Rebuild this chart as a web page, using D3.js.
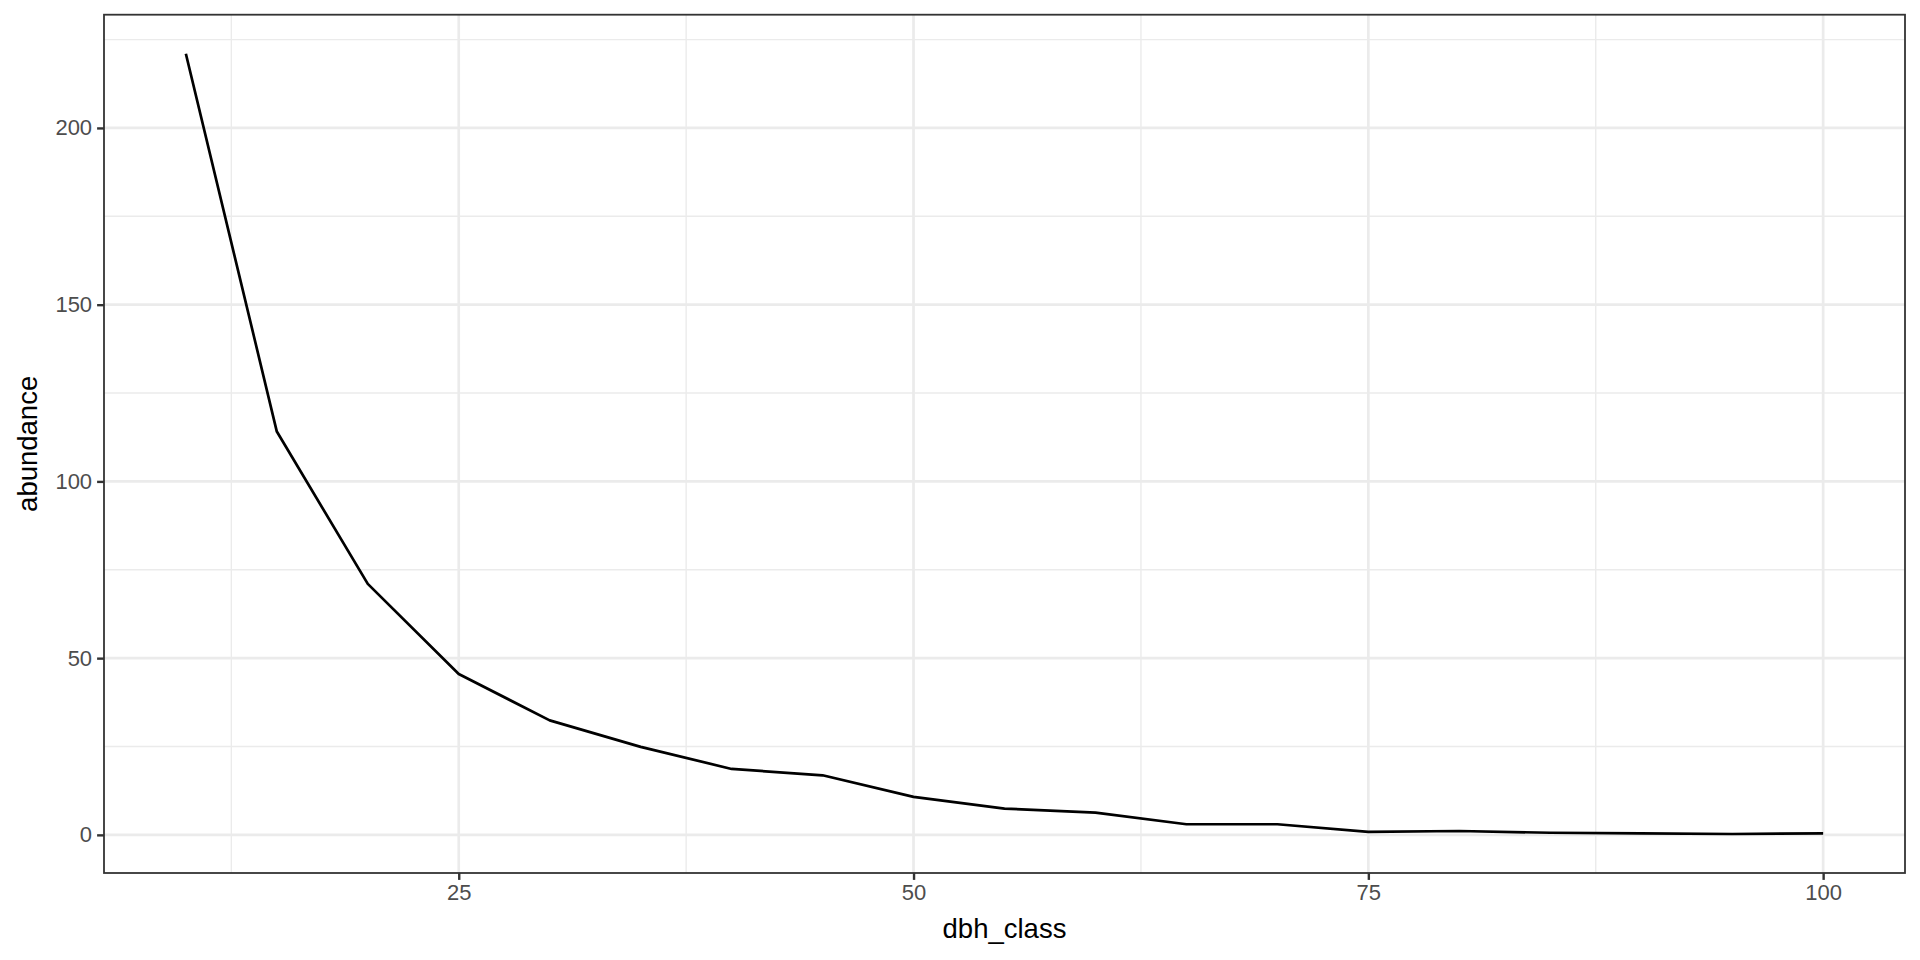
<!DOCTYPE html>
<html>
<head>
<meta charset="utf-8">
<script src="https://cdn.jsdelivr.net/npm/d3@7"></script>
<style>
  body { margin: 0; background: #fff; }
  text { font-family: "Liberation Sans", Arial, sans-serif; }
</style>
</head>
<body>
<div id="chart"></div>
<script>
/* line plot of tree abundance by dbh class */

const dbhClass = [10, 15, 20, 25, 30, 35, 40, 45, 50, 55, 60, 65, 70, 75, 80, 85, 90, 95, 100];
const abundance = [221.0, 114.1, 71.0, 45.5, 32.4, 24.9, 18.65, 16.85, 10.74, 7.43, 6.3, 3.0, 3.0, 0.85, 1.1, 0.6, 0.45, 0.25, 0.4];
const xTicks = [25, 50, 75, 100];
const xMinor = [12.5, 37.5, 62.5, 87.5];
const yTicks = [0, 50, 100, 150, 200];
const yMinor = [25, 75, 125, 175, 225];

let height = 960,
    width = 1920,
    margin = ({ top: 14.7, right: 15, bottom: 87, left: 104 });

const svg = d3.select("#chart")
  .append("svg")
  .attr("width", width)
  .attr("height", height);

let data = dbhClass.map((d, i) => ({ x: d, y: abundance[i] }));

// ggplot-style 5% expansion on both axes
function expand(ext) {
  let pad = (ext[1] - ext[0]) * 0.05;
  return [ext[0] - pad, ext[1] + pad];
}

let x = d3.scaleLinear()
  .domain(expand(d3.extent(data, d => d.x)))
  .range([margin.left, width - margin.right]);

let y = d3.scaleLinear()
  .domain(expand(d3.extent(data, d => d.y)))
  .range([height - margin.bottom, margin.top]);

let grid = svg.append("g");

// minor grid
grid.selectAll(".xminor").data(xMinor).join("line")
  .attr("x1", d => x(d)).attr("x2", d => x(d))
  .attr("y1", margin.top).attr("y2", height - margin.bottom)
  .attr("stroke", "#ebebeb").attr("stroke-width", 1.4);

grid.selectAll(".yminor").data(yMinor).join("line")
  .attr("x1", margin.left).attr("x2", width - margin.right)
  .attr("y1", d => y(d)).attr("y2", d => y(d))
  .attr("stroke", "#ebebeb").attr("stroke-width", 1.4);

// major grid
grid.selectAll(".xmajor").data(xTicks).join("line")
  .attr("x1", d => x(d)).attr("x2", d => x(d))
  .attr("y1", margin.top).attr("y2", height - margin.bottom)
  .attr("stroke", "#ebebeb").attr("stroke-width", 2.7);

grid.selectAll(".ymajor").data(yTicks).join("line")
  .attr("x1", margin.left).attr("x2", width - margin.right)
  .attr("y1", d => y(d)).attr("y2", d => y(d))
  .attr("stroke", "#ebebeb").attr("stroke-width", 2.7);

let line = d3.line()
  .x(d => x(d.x))
  .y(d => y(d.y));

svg.append("path")
  .datum(data)
  .attr("fill", "none")
  .attr("stroke", "#000")
  .attr("stroke-width", 2.7)
  .attr("stroke-linejoin", "round")
  .attr("d", line);

// panel border
svg.append("rect")
  .attr("x", margin.left)
  .attr("y", margin.top)
  .attr("width", width - margin.left - margin.right)
  .attr("height", height - margin.top - margin.bottom)
  .attr("fill", "none")
  .attr("stroke", "#333333")
  .attr("stroke-width", 1.8);

let xAxis = svg.append("g")
  .attr("transform", `translate(0,${height - margin.bottom})`)
  .call(d3.axisBottom(x).tickValues(xTicks).tickSize(6.9).tickPadding(4));

let yAxis = svg.append("g")
  .attr("transform", `translate(${margin.left},0)`)
  .call(d3.axisLeft(y).tickValues(yTicks).tickSize(6.9).tickPadding(5));

for (let ax of [xAxis, yAxis]) {
  ax.select(".domain").remove();
  ax.selectAll(".tick line").attr("stroke", "#333333").attr("stroke-width", 2.4);
  ax.selectAll(".tick text")
    .attr("fill", "#4d4d4d")
    .style("font-size", "22px")
    .style("font-family", "'Liberation Sans', Arial, sans-serif");
}

svg.append("text")
  .text("dbh_class")
  .attr("x", (margin.left + width - margin.right) / 2)
  .attr("y", 938)
  .attr("text-anchor", "middle")
  .attr("fill", "#000")
  .style("font-size", "27.5px");

svg.append("text")
  .text("abundance")
  .attr("transform", `translate(37,${(margin.top + height - margin.bottom) / 2}) rotate(-90)`)
  .attr("text-anchor", "middle")
  .attr("fill", "#000")
  .style("font-size", "27.5px");
</script>
</body>
</html>
